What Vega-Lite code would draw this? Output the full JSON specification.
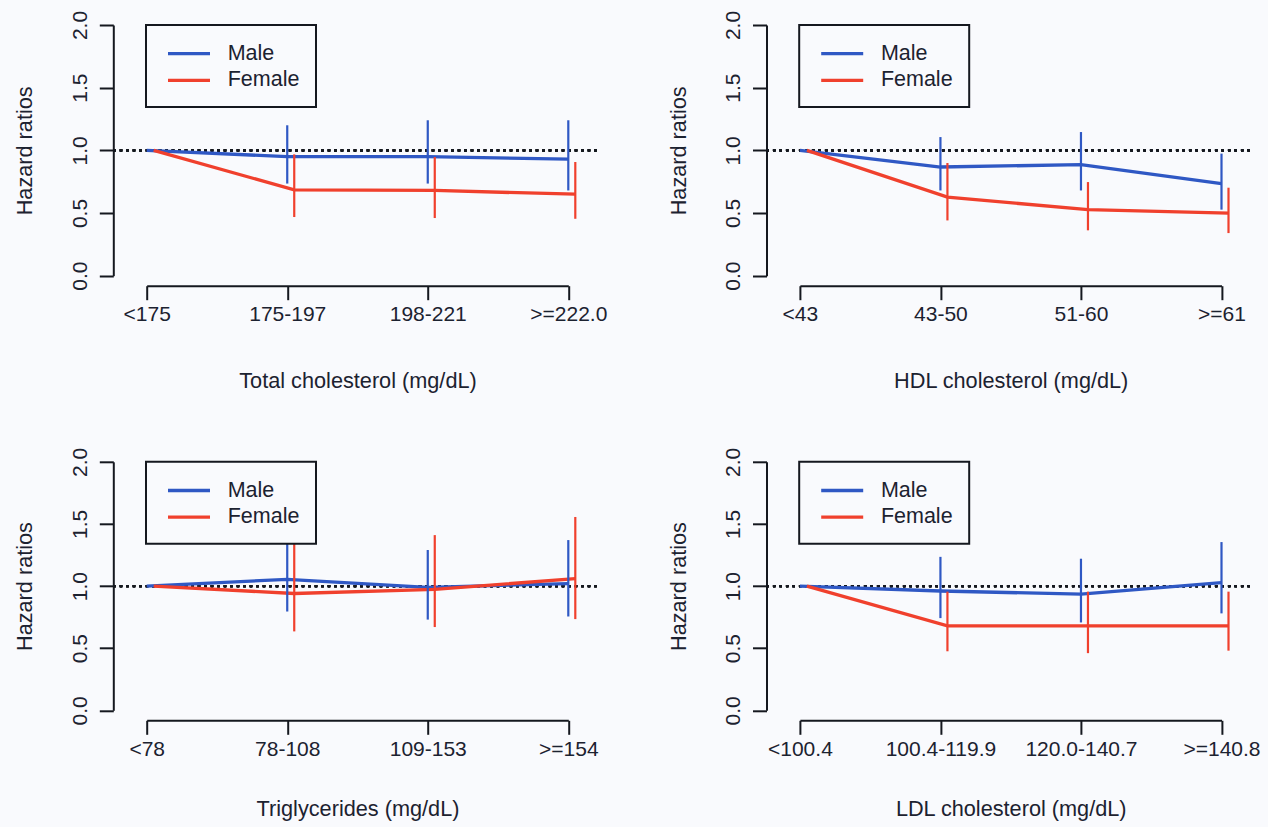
{
  "$schema": "https://vega.github.io/schema/vega-lite/v6.json",
  "autosize": {"type": "none"},
  "padding": {"left": 146.7, "top": 25, "right": 1121.3, "bottom": 802},
  "background": "#f9fafd",
  "data": {"values": [
    {"panel": "tc", "cat": 1, "sex": "Male", "hr": 1.0, "lo": null, "hi": null},
    {"panel": "tc", "cat": 2, "sex": "Male", "hr": 0.95, "lo": 0.735, "hi": 1.2},
    {"panel": "tc", "cat": 3, "sex": "Male", "hr": 0.95, "lo": 0.735, "hi": 1.24},
    {"panel": "tc", "cat": 4, "sex": "Male", "hr": 0.93, "lo": 0.68, "hi": 1.24},
    {"panel": "tc", "cat": 1, "sex": "Female", "hr": 1.0, "lo": null, "hi": null},
    {"panel": "tc", "cat": 2, "sex": "Female", "hr": 0.685, "lo": 0.468, "hi": 0.968},
    {"panel": "tc", "cat": 3, "sex": "Female", "hr": 0.68, "lo": 0.46, "hi": 0.947},
    {"panel": "tc", "cat": 4, "sex": "Female", "hr": 0.65, "lo": 0.454, "hi": 0.907},
    {"panel": "hdl", "cat": 1, "sex": "Male", "hr": 1.0, "lo": null, "hi": null},
    {"panel": "hdl", "cat": 2, "sex": "Male", "hr": 0.867, "lo": 0.68, "hi": 1.106},
    {"panel": "hdl", "cat": 3, "sex": "Male", "hr": 0.886, "lo": 0.68, "hi": 1.146},
    {"panel": "hdl", "cat": 4, "sex": "Male", "hr": 0.734, "lo": 0.527, "hi": 0.974},
    {"panel": "hdl", "cat": 1, "sex": "Female", "hr": 1.0, "lo": null, "hi": null},
    {"panel": "hdl", "cat": 2, "sex": "Female", "hr": 0.627, "lo": 0.441, "hi": 0.899},
    {"panel": "hdl", "cat": 3, "sex": "Female", "hr": 0.527, "lo": 0.362, "hi": 0.747},
    {"panel": "hdl", "cat": 4, "sex": "Female", "hr": 0.5, "lo": 0.34, "hi": 0.702},
    {"panel": "tg", "cat": 1, "sex": "Male", "hr": 1.0, "lo": null, "hi": null},
    {"panel": "tg", "cat": 2, "sex": "Male", "hr": 1.054, "lo": 0.795, "hi": 1.38},
    {"panel": "tg", "cat": 3, "sex": "Male", "hr": 0.99, "lo": 0.73, "hi": 1.29},
    {"panel": "tg", "cat": 4, "sex": "Male", "hr": 1.02, "lo": 0.755, "hi": 1.37},
    {"panel": "tg", "cat": 1, "sex": "Female", "hr": 1.0, "lo": null, "hi": null},
    {"panel": "tg", "cat": 2, "sex": "Female", "hr": 0.94, "lo": 0.635, "hi": 1.45},
    {"panel": "tg", "cat": 3, "sex": "Female", "hr": 0.973, "lo": 0.67, "hi": 1.41},
    {"panel": "tg", "cat": 4, "sex": "Female", "hr": 1.06, "lo": 0.734, "hi": 1.556},
    {"panel": "ldl", "cat": 1, "sex": "Male", "hr": 1.0, "lo": null, "hi": null},
    {"panel": "ldl", "cat": 2, "sex": "Male", "hr": 0.96, "lo": 0.742, "hi": 1.235},
    {"panel": "ldl", "cat": 3, "sex": "Male", "hr": 0.935, "lo": 0.707, "hi": 1.22},
    {"panel": "ldl", "cat": 4, "sex": "Male", "hr": 1.027, "lo": 0.78, "hi": 1.354},
    {"panel": "ldl", "cat": 1, "sex": "Female", "hr": 1.0, "lo": null, "hi": null},
    {"panel": "ldl", "cat": 2, "sex": "Female", "hr": 0.68, "lo": 0.475, "hi": 0.955},
    {"panel": "ldl", "cat": 3, "sex": "Female", "hr": 0.68, "lo": 0.46, "hi": 0.955},
    {"panel": "ldl", "cat": 4, "sex": "Female", "hr": 0.68, "lo": 0.48, "hi": 0.955}
  ]},
  "columns": 2,
  "bounds": "flush",
  "spacing": {"row": 185.8, "column": 231.2},
  "resolve": {"legend": {"color": "independent"}},
  "concat": [
    {
      "width": 421.6, "height": 250.7,
      "transform": [{"filter": "datum.panel == 'tc'"}],
      "layer": [
        {"mark": {"type": "rule", "strokeDash": [2.5, 4], "strokeWidth": 2.2, "color": "#15181f"},
         "encoding": {"y": {"datum": 1, "title": "Hazard ratios"}, "x": {"datum": 0.762, "title": "Total cholesterol (mg/dL)"}, "x2": {"datum": 4.203}}},
        {"mark": {"type": "line", "strokeWidth": 3.3, "xOffset": {"expr": "datum.sex == 'Female' ? 7 : 0"}},
         "encoding": {
           "x": {"field": "cat", "type": "quantitative", "title": "Total cholesterol (mg/dL)", "scale": {"domain": [1, 4], "nice": false, "zero": false},
                 "axis": {"values": [1, 2, 3, 4], "titleY": 101.6, "labelExpr": "['<175','175-197','198-221','>=222.0'][datum.value - 1]"}},
           "y": {"field": "hr", "type": "quantitative", "title": "Hazard ratios", "scale": {"domain": [0, 2], "nice": false},
                 "axis": {"values": [0, 0.5, 1, 1.5, 2], "format": ".1f"}},
           "color": {"field": "sex", "type": "nominal", "sort": ["Male", "Female"]}}},
        {"mark": {"type": "rule", "strokeWidth": 2.2, "xOffset": {"expr": "datum.sex == 'Female' ? 7 : 0"}},
         "encoding": {
           "x": {"field": "cat", "type": "quantitative", "title": "Total cholesterol (mg/dL)"},
           "y": {"field": "lo", "type": "quantitative", "title": "Hazard ratios"},
           "y2": {"field": "hi"},
           "color": {"field": "sex", "type": "nominal", "sort": ["Male", "Female"]}}}
      ]
    },
    {
      "width": 421.6, "height": 250.7,
      "transform": [{"filter": "datum.panel == 'hdl'"}],
      "layer": [
        {"mark": {"type": "rule", "strokeDash": [2.5, 4], "strokeWidth": 2.2, "color": "#15181f"},
         "encoding": {"y": {"datum": 1, "title": "Hazard ratios"}, "x": {"datum": 0.762, "title": "HDL cholesterol (mg/dL)"}, "x2": {"datum": 4.203}}},
        {"mark": {"type": "line", "strokeWidth": 3.3, "xOffset": {"expr": "datum.sex == 'Female' ? 7 : 0"}},
         "encoding": {
           "x": {"field": "cat", "type": "quantitative", "title": "HDL cholesterol (mg/dL)", "scale": {"domain": [1, 4], "nice": false, "zero": false},
                 "axis": {"values": [1, 2, 3, 4], "titleY": 101.6, "labelExpr": "['<43','43-50','51-60','>=61'][datum.value - 1]"}},
           "y": {"field": "hr", "type": "quantitative", "title": "Hazard ratios", "scale": {"domain": [0, 2], "nice": false},
                 "axis": {"values": [0, 0.5, 1, 1.5, 2], "format": ".1f"}},
           "color": {"field": "sex", "type": "nominal", "sort": ["Male", "Female"]}}},
        {"mark": {"type": "rule", "strokeWidth": 2.2, "xOffset": {"expr": "datum.sex == 'Female' ? 7 : 0"}},
         "encoding": {
           "x": {"field": "cat", "type": "quantitative", "title": "HDL cholesterol (mg/dL)"},
           "y": {"field": "lo", "type": "quantitative", "title": "Hazard ratios"},
           "y2": {"field": "hi"},
           "color": {"field": "sex", "type": "nominal", "sort": ["Male", "Female"]}}}
      ]
    },
    {
      "width": 421.6, "height": 248.5,
      "transform": [{"filter": "datum.panel == 'tg'"}],
      "layer": [
        {"mark": {"type": "rule", "strokeDash": [2.5, 4], "strokeWidth": 2.2, "color": "#15181f"},
         "encoding": {"y": {"datum": 1, "title": "Hazard ratios"}, "x": {"datum": 0.762, "title": "Triglycerides (mg/dL)"}, "x2": {"datum": 4.203}}},
        {"mark": {"type": "line", "strokeWidth": 3.3, "xOffset": {"expr": "datum.sex == 'Female' ? 7 : 0"}},
         "encoding": {
           "x": {"field": "cat", "type": "quantitative", "title": "Triglycerides (mg/dL)", "scale": {"domain": [1, 4], "nice": false, "zero": false},
                 "axis": {"values": [1, 2, 3, 4], "titleY": 95.3, "labelExpr": "['<78','78-108','109-153','>=154'][datum.value - 1]"}},
           "y": {"field": "hr", "type": "quantitative", "title": "Hazard ratios", "scale": {"domain": [0, 2], "nice": false},
                 "axis": {"values": [0, 0.5, 1, 1.5, 2], "format": ".1f"}},
           "color": {"field": "sex", "type": "nominal", "sort": ["Male", "Female"]}}},
        {"mark": {"type": "rule", "strokeWidth": 2.2, "xOffset": {"expr": "datum.sex == 'Female' ? 7 : 0"}},
         "encoding": {
           "x": {"field": "cat", "type": "quantitative", "title": "Triglycerides (mg/dL)"},
           "y": {"field": "lo", "type": "quantitative", "title": "Hazard ratios"},
           "y2": {"field": "hi"},
           "color": {"field": "sex", "type": "nominal", "sort": ["Male", "Female"]}}}
      ]
    },
    {
      "width": 421.6, "height": 248.5,
      "transform": [{"filter": "datum.panel == 'ldl'"}],
      "layer": [
        {"mark": {"type": "rule", "strokeDash": [2.5, 4], "strokeWidth": 2.2, "color": "#15181f"},
         "encoding": {"y": {"datum": 1, "title": "Hazard ratios"}, "x": {"datum": 0.762, "title": "LDL cholesterol (mg/dL)"}, "x2": {"datum": 4.203}}},
        {"mark": {"type": "line", "strokeWidth": 3.3, "xOffset": {"expr": "datum.sex == 'Female' ? 7 : 0"}},
         "encoding": {
           "x": {"field": "cat", "type": "quantitative", "title": "LDL cholesterol (mg/dL)", "scale": {"domain": [1, 4], "nice": false, "zero": false},
                 "axis": {"values": [1, 2, 3, 4], "titleY": 95.3, "labelExpr": "['<100.4','100.4-119.9','120.0-140.7','>=140.8'][datum.value - 1]"}},
           "y": {"field": "hr", "type": "quantitative", "title": "Hazard ratios", "scale": {"domain": [0, 2], "nice": false},
                 "axis": {"values": [0, 0.5, 1, 1.5, 2], "format": ".1f"}},
           "color": {"field": "sex", "type": "nominal", "sort": ["Male", "Female"]}}},
        {"mark": {"type": "rule", "strokeWidth": 2.2, "xOffset": {"expr": "datum.sex == 'Female' ? 7 : 0"}},
         "encoding": {
           "x": {"field": "cat", "type": "quantitative", "title": "LDL cholesterol (mg/dL)"},
           "y": {"field": "lo", "type": "quantitative", "title": "Hazard ratios"},
           "y2": {"field": "hi"},
           "color": {"field": "sex", "type": "nominal", "sort": ["Male", "Female"]}}}
      ]
    }
  ],
  "config": {
    "view": {"stroke": null},
    "font": "Liberation Sans",
    "range": {"category": ["#2f58c4", "#f0402d"]},
    "axis": {
      "grid": false,
      "domainColor": "#15181f", "domainWidth": 2, "tickColor": "#15181f", "tickWidth": 2, "tickSize": 14,
      "labelFont": "Liberation Sans", "labelFontSize": 21, "labelColor": "#1c2230", "labelFlush": false, "labelOverlap": false,
      "titleFont": "Liberation Sans", "titleFontSize": 21.7, "titleFontWeight": "normal", "titleColor": "#1c2230"
    },
    "axisX": {"offset": 10, "labelPadding": 21, "labelBaseline": "alphabetic", "titleBaseline": "alphabetic"},
    "axisY": {"offset": 33.4, "labelAngle": -90, "labelAlign": "center", "labelBaseline": "alphabetic", "labelPadding": 13.3, "titleX": -81.3, "titleBaseline": "alphabetic"},
    "legend": {
      "orient": "none", "legendX": -0.7, "legendY": 0, "title": null,
      "symbolType": "M-2,0H2", "symbolSize": 441, "symbolStrokeWidth": 3.3, "symbolOffset": 14.3,
      "labelFont": "Liberation Sans", "labelFontSize": 21.5, "labelColor": "#1c2230", "labelOffset": 26.2,
      "padding": 16.2, "rowPadding": 3.6, "strokeColor": "#15181f", "strokeWidth": 2, "fillColor": "#f9fafd"
    }
  }
}
